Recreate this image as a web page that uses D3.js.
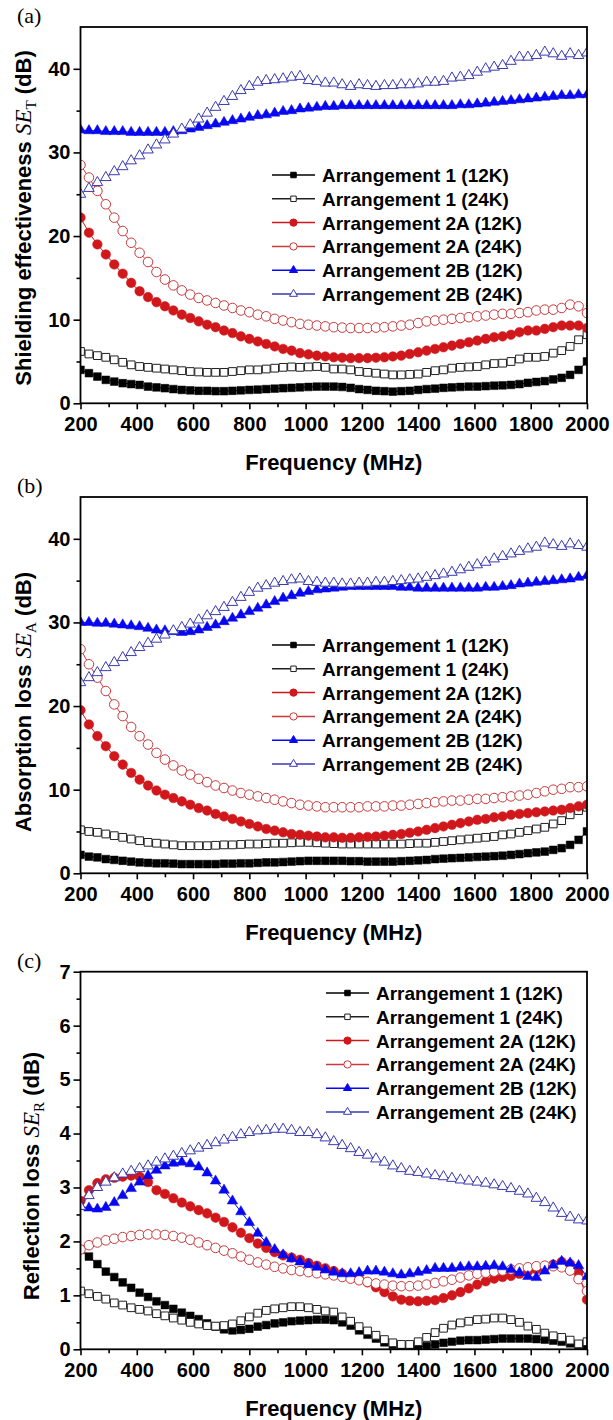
<!DOCTYPE html>
<html>
<head>
<meta charset="utf-8">
<script src="https://cdn.jsdelivr.net/npm/d3@7"></script>
<style>
body { margin:0; background:#fff; }
svg text { font-family:"Liberation Sans", Arial, sans-serif; }
</style>
</head>
<body>
<svg id="chart"></svg>
<script>
// frequency points (MHz)
var freq = [200,230,260,290,320,350,380,410,440,470,
    500,530,560,590,620,650,680,710,740,770,
    800,830,860,890,920,950,980,1010,1040,1070,
    1100,1130,1160,1190,1220,1250,1280,1310,1340,1370,
    1400,1430,1460,1490,1520,1550,1580,1610,1640,1670,
    1700,1730,1760,1790,1820,1850,1880,1910,1940,1970,2000];

var seriesNames = ["Arrangement 1 (12K)", "Arrangement 1 (24K)",
    "Arrangement 2A (12K)", "Arrangement 2A (24K)",
    "Arrangement 2B (12K)", "Arrangement 2B (24K)"];

var xTicks = [200,400,600,800,1000,1200,1400,1600,1800,2000];
var xMinor = [300,500,700,900,1100,1300,1500,1700,1900];
var dbTicks = [0,10,20,30,40];
var dbMinor = [5,15,25,35];
var srTicks = [0,1,2,3,4,5,6,7];
var srMinor = [0.5,1.5,2.5,3.5,4.5,5.5,6.5];

// (a) total shielding effectiveness SE_T
var seT_arr1_12K = [4.0,3.6,3.2,2.8,2.6,2.4,2.3,2.2,2.0,1.9,
    1.8,1.7,1.6,1.55,1.5,1.5,1.45,1.45,1.5,1.55,
    1.6,1.65,1.7,1.75,1.8,1.85,1.9,1.95,2.0,2.0,
    2.0,1.95,1.85,1.7,1.6,1.5,1.45,1.4,1.45,1.5,
    1.6,1.7,1.75,1.85,1.9,1.95,2.0,2.0,2.05,2.1,
    2.15,2.2,2.3,2.45,2.55,2.65,2.85,3.05,3.4,4.0,5.0];
var seT_arr1_24K = [6.2,5.9,5.7,5.5,5.2,4.9,4.6,4.4,4.3,4.2,
    4.1,4.0,3.9,3.8,3.75,3.7,3.7,3.7,3.8,3.9,
    4.0,4.0,4.1,4.2,4.3,4.35,4.3,4.35,4.4,4.3,
    4.1,4.1,4.0,3.8,3.7,3.6,3.5,3.4,3.4,3.45,
    3.5,3.7,3.9,4.0,4.2,4.3,4.35,4.4,4.6,4.75,
    4.8,5.0,5.3,5.5,5.5,5.6,6.0,6.3,6.8,7.6,8.2];
var seT_arr2A_12K = [22.2,20.4,19.0,17.8,16.6,15.5,14.4,13.4,12.7,12.1,
    11.6,11.1,10.6,10.2,9.8,9.4,9.1,8.7,8.4,8.0,
    7.7,7.4,7.1,6.8,6.5,6.3,6.0,5.85,5.7,5.6,
    5.5,5.45,5.4,5.4,5.4,5.45,5.5,5.6,5.7,5.9,
    6.1,6.3,6.5,6.7,6.9,7.1,7.3,7.5,7.7,7.9,
    8.0,8.2,8.5,8.7,8.7,8.9,9.1,9.3,9.3,9.3,9.0];
var seT_arr2A_24K = [28.5,27.0,25.4,23.8,22.2,20.6,19.2,18.0,16.9,15.7,
    14.8,14.1,13.5,13.0,12.6,12.3,12.0,11.7,11.4,11.1,
    10.9,10.6,10.4,10.1,9.9,9.7,9.5,9.4,9.3,9.2,
    9.1,9.05,9.0,9.0,9.0,9.05,9.1,9.2,9.3,9.4,
    9.6,9.8,9.9,10.0,10.1,10.2,10.3,10.4,10.5,10.6,
    10.7,10.7,10.8,10.9,11.1,11.2,11.2,11.4,11.8,11.6,10.8];
var seT_arr2B_12K = [32.7,32.6,32.6,32.5,32.5,32.5,32.4,32.4,32.4,32.4,
    32.4,32.5,32.6,32.8,33.0,33.2,33.4,33.6,33.8,34.0,
    34.2,34.4,34.5,34.7,34.9,35.0,35.2,35.3,35.4,35.5,
    35.5,35.6,35.6,35.6,35.6,35.6,35.6,35.6,35.6,35.6,
    35.6,35.6,35.6,35.6,35.6,35.7,35.7,35.8,35.9,36.0,
    36.1,36.2,36.3,36.4,36.5,36.6,36.7,36.8,36.8,36.9,36.9];
var seT_arr2B_24K = [25.0,25.7,26.4,27.0,27.7,28.3,29.0,29.6,30.3,30.9,
    31.5,32.2,32.8,33.3,34.0,34.7,35.4,36.1,36.7,37.4,
    37.9,38.4,38.6,38.7,38.8,39.0,39.1,38.6,38.5,38.3,
    38.3,38.1,37.9,38.1,38.0,37.9,38.0,38.0,38.1,38.1,
    38.2,38.4,38.4,38.5,38.9,39.0,39.2,39.6,40.0,40.2,
    40.4,40.9,41.4,41.4,41.6,42.0,41.8,41.5,41.8,41.6,41.9];

// (b) absorption loss SE_A
var seA_arr1_12K = [2.2,2.0,1.9,1.7,1.6,1.5,1.4,1.3,1.25,1.2,
    1.2,1.15,1.1,1.1,1.1,1.1,1.1,1.15,1.15,1.2,
    1.2,1.25,1.3,1.3,1.35,1.4,1.45,1.5,1.5,1.5,
    1.5,1.5,1.45,1.45,1.4,1.4,1.4,1.4,1.45,1.5,
    1.55,1.6,1.7,1.75,1.8,1.85,1.9,1.95,2.0,2.05,
    2.1,2.2,2.3,2.4,2.5,2.6,2.8,3.0,3.4,4.0,5.0];
var seA_arr1_24K = [5.2,5.0,4.9,4.7,4.5,4.3,4.1,3.9,3.7,3.6,
    3.5,3.4,3.3,3.3,3.3,3.3,3.35,3.4,3.4,3.45,
    3.5,3.5,3.55,3.6,3.6,3.65,3.7,3.7,3.65,3.6,
    3.55,3.5,3.5,3.5,3.5,3.5,3.5,3.5,3.5,3.55,
    3.6,3.6,3.7,3.8,3.9,4.0,4.1,4.2,4.3,4.4,
    4.6,4.7,4.9,5.1,5.3,5.5,5.9,6.3,7.0,7.5,7.9];
var seA_arr2A_12K = [19.5,17.8,16.4,15.2,14.0,13.0,12.0,11.2,10.5,9.9,
    9.4,9.0,8.6,8.2,7.8,7.5,7.1,6.8,6.5,6.2,
    5.9,5.6,5.3,5.1,4.9,4.7,4.6,4.5,4.4,4.3,
    4.3,4.25,4.25,4.3,4.35,4.4,4.5,4.6,4.7,4.85,
    5.0,5.2,5.4,5.6,5.8,6.0,6.2,6.4,6.5,6.7,
    6.8,7.0,7.1,7.2,7.3,7.4,7.5,7.6,7.8,8.0,8.2];
var seA_arr2A_24K = [26.8,25.0,23.4,21.8,20.2,18.8,17.5,16.4,15.4,14.4,
    13.6,12.9,12.3,11.8,11.3,10.9,10.5,10.2,9.9,9.6,
    9.4,9.2,9.0,8.8,8.6,8.4,8.2,8.1,8.0,7.9,
    7.9,7.9,7.9,7.9,8.0,8.0,8.0,8.1,8.1,8.2,
    8.3,8.4,8.5,8.6,8.7,8.7,8.8,8.9,8.9,9.0,
    9.1,9.2,9.3,9.4,9.6,9.8,10.0,10.1,10.3,10.3,10.4];
var seA_arr2B_12K = [30.0,30.0,29.9,29.9,29.8,29.7,29.6,29.5,29.3,29.1,
    29.0,28.9,28.8,28.9,29.1,29.4,29.7,30.1,30.5,30.9,
    31.3,31.7,32.1,32.5,32.9,33.2,33.5,33.7,33.9,34.0,
    34.1,34.2,34.3,34.3,34.3,34.3,34.3,34.3,34.2,34.2,
    34.1,34.1,34.1,34.1,34.1,34.1,34.1,34.1,34.2,34.2,
    34.3,34.4,34.6,34.7,34.8,34.9,35.0,35.1,35.2,35.4,35.6];
var seA_arr2B_24K = [22.8,23.4,24.0,24.6,25.2,25.8,26.4,27.0,27.5,28.0,
    28.5,29.0,29.4,29.8,30.3,30.8,31.3,31.8,32.4,33.0,
    33.6,34.1,34.4,34.7,34.9,35.1,35.2,34.9,34.8,34.7,
    34.7,34.6,34.6,34.7,34.7,34.8,34.8,34.9,35.0,35.1,
    35.2,35.4,35.6,35.8,36.0,36.3,36.6,36.9,37.2,37.6,
    37.9,38.2,38.5,38.8,39.0,39.5,39.3,39.1,39.4,39.2,39.0];

// (c) reflection loss SE_R
var seR_arr1_12K = [1.85,1.72,1.58,1.44,1.34,1.24,1.14,1.05,0.97,0.89,
    0.82,0.75,0.68,0.62,0.56,0.48,0.42,0.37,0.35,0.36,
    0.38,0.42,0.45,0.48,0.5,0.52,0.53,0.54,0.55,0.55,
    0.54,0.5,0.44,0.35,0.27,0.2,0.13,0.08,0.05,0.03,
    0.04,0.06,0.09,0.12,0.14,0.16,0.17,0.17,0.18,0.19,
    0.2,0.2,0.2,0.2,0.19,0.18,0.16,0.14,0.11,0.08,0.05];
var seR_arr1_24K = [1.08,1.03,0.98,0.93,0.86,0.82,0.77,0.74,0.71,0.66,
    0.62,0.58,0.54,0.5,0.47,0.44,0.43,0.44,0.47,0.53,
    0.6,0.67,0.72,0.75,0.77,0.79,0.79,0.77,0.74,0.71,
    0.69,0.6,0.52,0.42,0.34,0.26,0.18,0.12,0.09,0.09,
    0.14,0.22,0.31,0.39,0.45,0.49,0.52,0.55,0.56,0.58,
    0.58,0.55,0.5,0.43,0.37,0.3,0.25,0.22,0.17,0.1,0.14];
var seR_arr2A_12K = [2.75,2.95,3.08,3.15,3.18,3.2,3.22,3.2,3.1,2.95,
    2.88,2.8,2.72,2.65,2.58,2.52,2.44,2.36,2.26,2.16,
    2.06,1.96,1.88,1.8,1.74,1.7,1.66,1.6,1.55,1.5,
    1.45,1.4,1.36,1.3,1.24,1.15,1.06,0.98,0.92,0.9,
    0.89,0.9,0.91,0.95,1.0,1.06,1.13,1.2,1.26,1.31,
    1.34,1.36,1.4,1.44,1.48,1.52,1.57,1.62,1.58,1.42,0.92];
var seR_arr2A_24K = [1.85,1.93,1.98,2.02,2.05,2.08,2.1,2.12,2.13,2.13,
    2.12,2.1,2.07,2.03,1.98,1.93,1.88,1.83,1.78,1.72,
    1.66,1.61,1.57,1.53,1.5,1.47,1.45,1.43,1.41,1.39,
    1.37,1.34,1.31,1.28,1.25,1.22,1.2,1.18,1.17,1.17,
    1.18,1.2,1.23,1.26,1.29,1.33,1.37,1.4,1.42,1.44,
    1.46,1.48,1.5,1.52,1.54,1.55,1.54,1.52,1.46,1.3,1.08];
var seR_arr2B_12K = [2.65,2.62,2.6,2.63,2.72,2.85,2.98,3.1,3.22,3.32,
    3.4,3.45,3.47,3.44,3.38,3.27,3.12,2.95,2.75,2.55,
    2.35,2.15,1.98,1.85,1.75,1.68,1.62,1.57,1.52,1.47,
    1.43,1.4,1.4,1.42,1.45,1.45,1.43,1.4,1.38,1.4,
    1.43,1.46,1.5,1.5,1.5,1.52,1.53,1.53,1.54,1.55,
    1.53,1.48,1.42,1.35,1.33,1.45,1.56,1.63,1.6,1.55,1.35];
var seR_arr2B_24K = [2.65,2.85,3.0,3.1,3.18,3.25,3.3,3.35,3.4,3.47,
    3.53,3.58,3.63,3.68,3.73,3.78,3.83,3.88,3.93,3.98,
    4.02,4.05,4.06,4.08,4.08,4.06,4.02,4.02,3.98,3.92,
    3.85,3.78,3.72,3.65,3.6,3.53,3.47,3.4,3.35,3.3,
    3.28,3.25,3.22,3.2,3.17,3.14,3.12,3.1,3.08,3.05,
    3.02,2.98,2.93,2.88,2.8,2.72,2.62,2.52,2.45,2.4,2.38];

// marker look for each series, in legend order
var styles = [
    {shape:d3.symbolSquare,   filled:true,  color:"#000000", size:60, lsize:30},
    {shape:d3.symbolSquare,   filled:false, color:"#202020", size:60, lsize:30},
    {shape:d3.symbolCircle,   filled:true,  color:"#d0181c", size:72, lsize:42},
    {shape:d3.symbolCircle,   filled:false, color:"#c83a3c", size:72, lsize:42},
    {shape:d3.symbolTriangle, filled:true,  color:"#0808f0", size:48, lsize:28},
    {shape:d3.symbolTriangle, filled:false, color:"#3a3ab0", size:48, lsize:28}
];

var plotLeft = 80.5, plotRight = 587;

var panels = [
    {tag:"(a)", top:27, bottom:403.3, yMax:45, ticks:dbTicks, minor:dbMinor,
     title:["Shielding effectiveness ", "SE", "T", " (dB)"], titleX:31, titleY:218,
     legendX:272, legendY:175,
     data:[seT_arr1_12K, seT_arr1_24K, seT_arr2A_12K, seT_arr2A_24K, seT_arr2B_12K, seT_arr2B_24K]},
    {tag:"(b)", top:497, bottom:873.3, yMax:45, ticks:dbTicks, minor:dbMinor,
     title:["Absorption loss ", "SE", "A", " (dB)"], titleX:31, titleY:702,
     legendX:272, legendY:645,
     data:[seA_arr1_12K, seA_arr1_24K, seA_arr2A_12K, seA_arr2A_24K, seA_arr2B_12K, seA_arr2B_24K]},
    {tag:"(c)", top:971.7, bottom:1349.3, yMax:7, ticks:srTicks, minor:srMinor,
     title:["Reflection loss ", "SE", "R", " (dB)"], titleX:39, titleY:1176,
     legendX:326, legendY:993,
     data:[seR_arr1_12K, seR_arr1_24K, seR_arr2A_12K, seR_arr2A_24K, seR_arr2B_12K, seR_arr2B_24K]}
];

var svg = d3.select("#chart")
    .attr("width", 613)
    .attr("height", 1420);

var x = d3.scaleLinear()
    .domain([200,2000])
    .range([plotLeft, plotRight]);

var drawPanel = function(p, k)
{
    var y = d3.scaleLinear()
        .domain([0, p.yMax])
        .range([p.bottom, p.top]);

    var g = svg.append("g").attr("class", "panel");

    g.append("clipPath")
        .attr("id", "clip" + k)
        .append("rect")
        .attr("x", plotLeft)
        .attr("y", p.top)
        .attr("width", plotRight - plotLeft)
        .attr("height", p.bottom - p.top);

    var plot = g.append("g").attr("clip-path", "url(#clip" + k + ")");

    var line = d3.line()
        .x(function(d){ return x(d.f); })
        .y(function(d){ return y(d.v); });

    p.data.forEach(function(vals, i)
    {
        var st = styles[i];
        var pts = freq.map(function(f, j){ return {f:f, v:vals[j]}; });
        var s = plot.append("g");
        s.append("path")
            .datum(pts)
            .attr("d", line)
            .attr("fill", "none")
            .attr("stroke", st.color)
            .attr("stroke-width", 1);
        s.selectAll("path.mk")
            .data(pts)
            .enter()
            .append("path")
            .attr("class", "mk")
            .attr("transform", function(d){ return "translate(" + x(d.f) + "," + y(d.v) + ")"; })
            .attr("d", d3.symbol().type(st.shape).size(st.size))
            .attr("fill", st.filled ? st.color : "#fff")
            .attr("stroke", st.color)
            .attr("stroke-width", st.filled ? 0.5 : 1);
    });

    // axes
    g.append("g")
        .attr("transform", "translate(0," + p.bottom + ")")
        .call(d3.axisBottom(x).tickValues(xTicks).tickFormat(d3.format("d"))
            .tickSize(6).tickSizeOuter(0).tickPadding(8));
    g.append("g")
        .attr("transform", "translate(0," + p.bottom + ")")
        .call(d3.axisBottom(x).tickValues(xMinor).tickSize(4).tickSizeOuter(0).tickFormat(""));
    g.append("g")
        .attr("transform", "translate(" + plotLeft + ",0)")
        .call(d3.axisLeft(y).tickValues(p.ticks).tickFormat(d3.format("d"))
            .tickSize(7).tickSizeOuter(0).tickPadding(3));
    g.append("g")
        .attr("transform", "translate(" + plotLeft + ",0)")
        .call(d3.axisLeft(y).tickValues(p.minor).tickSize(4).tickSizeOuter(0).tickFormat(""));

    g.selectAll(".domain").remove();
    g.selectAll(".tick line").attr("stroke", "#000").attr("stroke-width", 1.6);
    g.selectAll(".tick text")
        .attr("fill", "#000")
        .style("font-size", "20px")
        .style("font-weight", "bold")
        .style("font-family", "'Liberation Sans', Arial, sans-serif");

    // frame
    g.append("rect")
        .attr("x", plotLeft)
        .attr("y", p.top)
        .attr("width", plotRight - plotLeft)
        .attr("height", p.bottom - p.top)
        .attr("fill", "none")
        .attr("stroke", "#000")
        .attr("stroke-width", 1.8);

    // panel tag
    g.append("text")
        .attr("x", 17)
        .attr("y", p.top - 4)
        .text(p.tag)
        .style("font-family", "'Liberation Serif', 'Times New Roman', serif")
        .style("font-size", "22px");

    // x title
    g.append("text")
        .attr("x", (plotLeft + plotRight) / 2)
        .attr("y", p.bottom + 66.6)
        .attr("text-anchor", "middle")
        .style("font-size", "22px")
        .style("font-weight", "bold")
        .text("Frequency (MHz)");

    // y title
    var yt = g.append("text")
        .attr("transform", "translate(" + p.titleX + "," + p.titleY + ") rotate(-90)")
        .attr("text-anchor", "middle")
        .style("font-size", "22px")
        .style("font-weight", "bold");
    yt.append("tspan").text(p.title[0]);
    yt.append("tspan")
        .style("font-family", "'Liberation Serif', 'Times New Roman', serif")
        .style("font-style", "italic")
        .style("font-weight", "normal")
        .style("font-size", "23px")
        .text(p.title[1]);
    yt.append("tspan")
        .attr("dy", 5)
        .style("font-family", "'Liberation Serif', 'Times New Roman', serif")
        .style("font-weight", "normal")
        .style("font-size", "15px")
        .text(p.title[2]);
    yt.append("tspan")
        .attr("dy", -5)
        .text(p.title[3]);

    // legend
    var lg = g.append("g").attr("class", "legend");
    seriesNames.forEach(function(name, i)
    {
        var st = styles[i];
        var ly = p.legendY + i * 23.8;
        lg.append("line")
            .attr("x1", p.legendX)
            .attr("x2", p.legendX + 43)
            .attr("y1", ly)
            .attr("y2", ly)
            .attr("stroke", st.color)
            .attr("stroke-width", 1.5);
        lg.append("path")
            .attr("transform", "translate(" + (p.legendX + 21.5) + "," + ly + ")")
            .attr("d", d3.symbol().type(st.shape).size(st.lsize))
            .attr("fill", st.filled ? st.color : "#fff")
            .attr("stroke", st.color)
            .attr("stroke-width", 1);
        lg.append("text")
            .attr("x", p.legendX + 50)
            .attr("y", ly + 7)
            .style("font-size", "19px")
            .style("font-weight", "bold")
            .text(name);
    });
};

panels.forEach(drawPanel);
</script>
</body>
</html>
